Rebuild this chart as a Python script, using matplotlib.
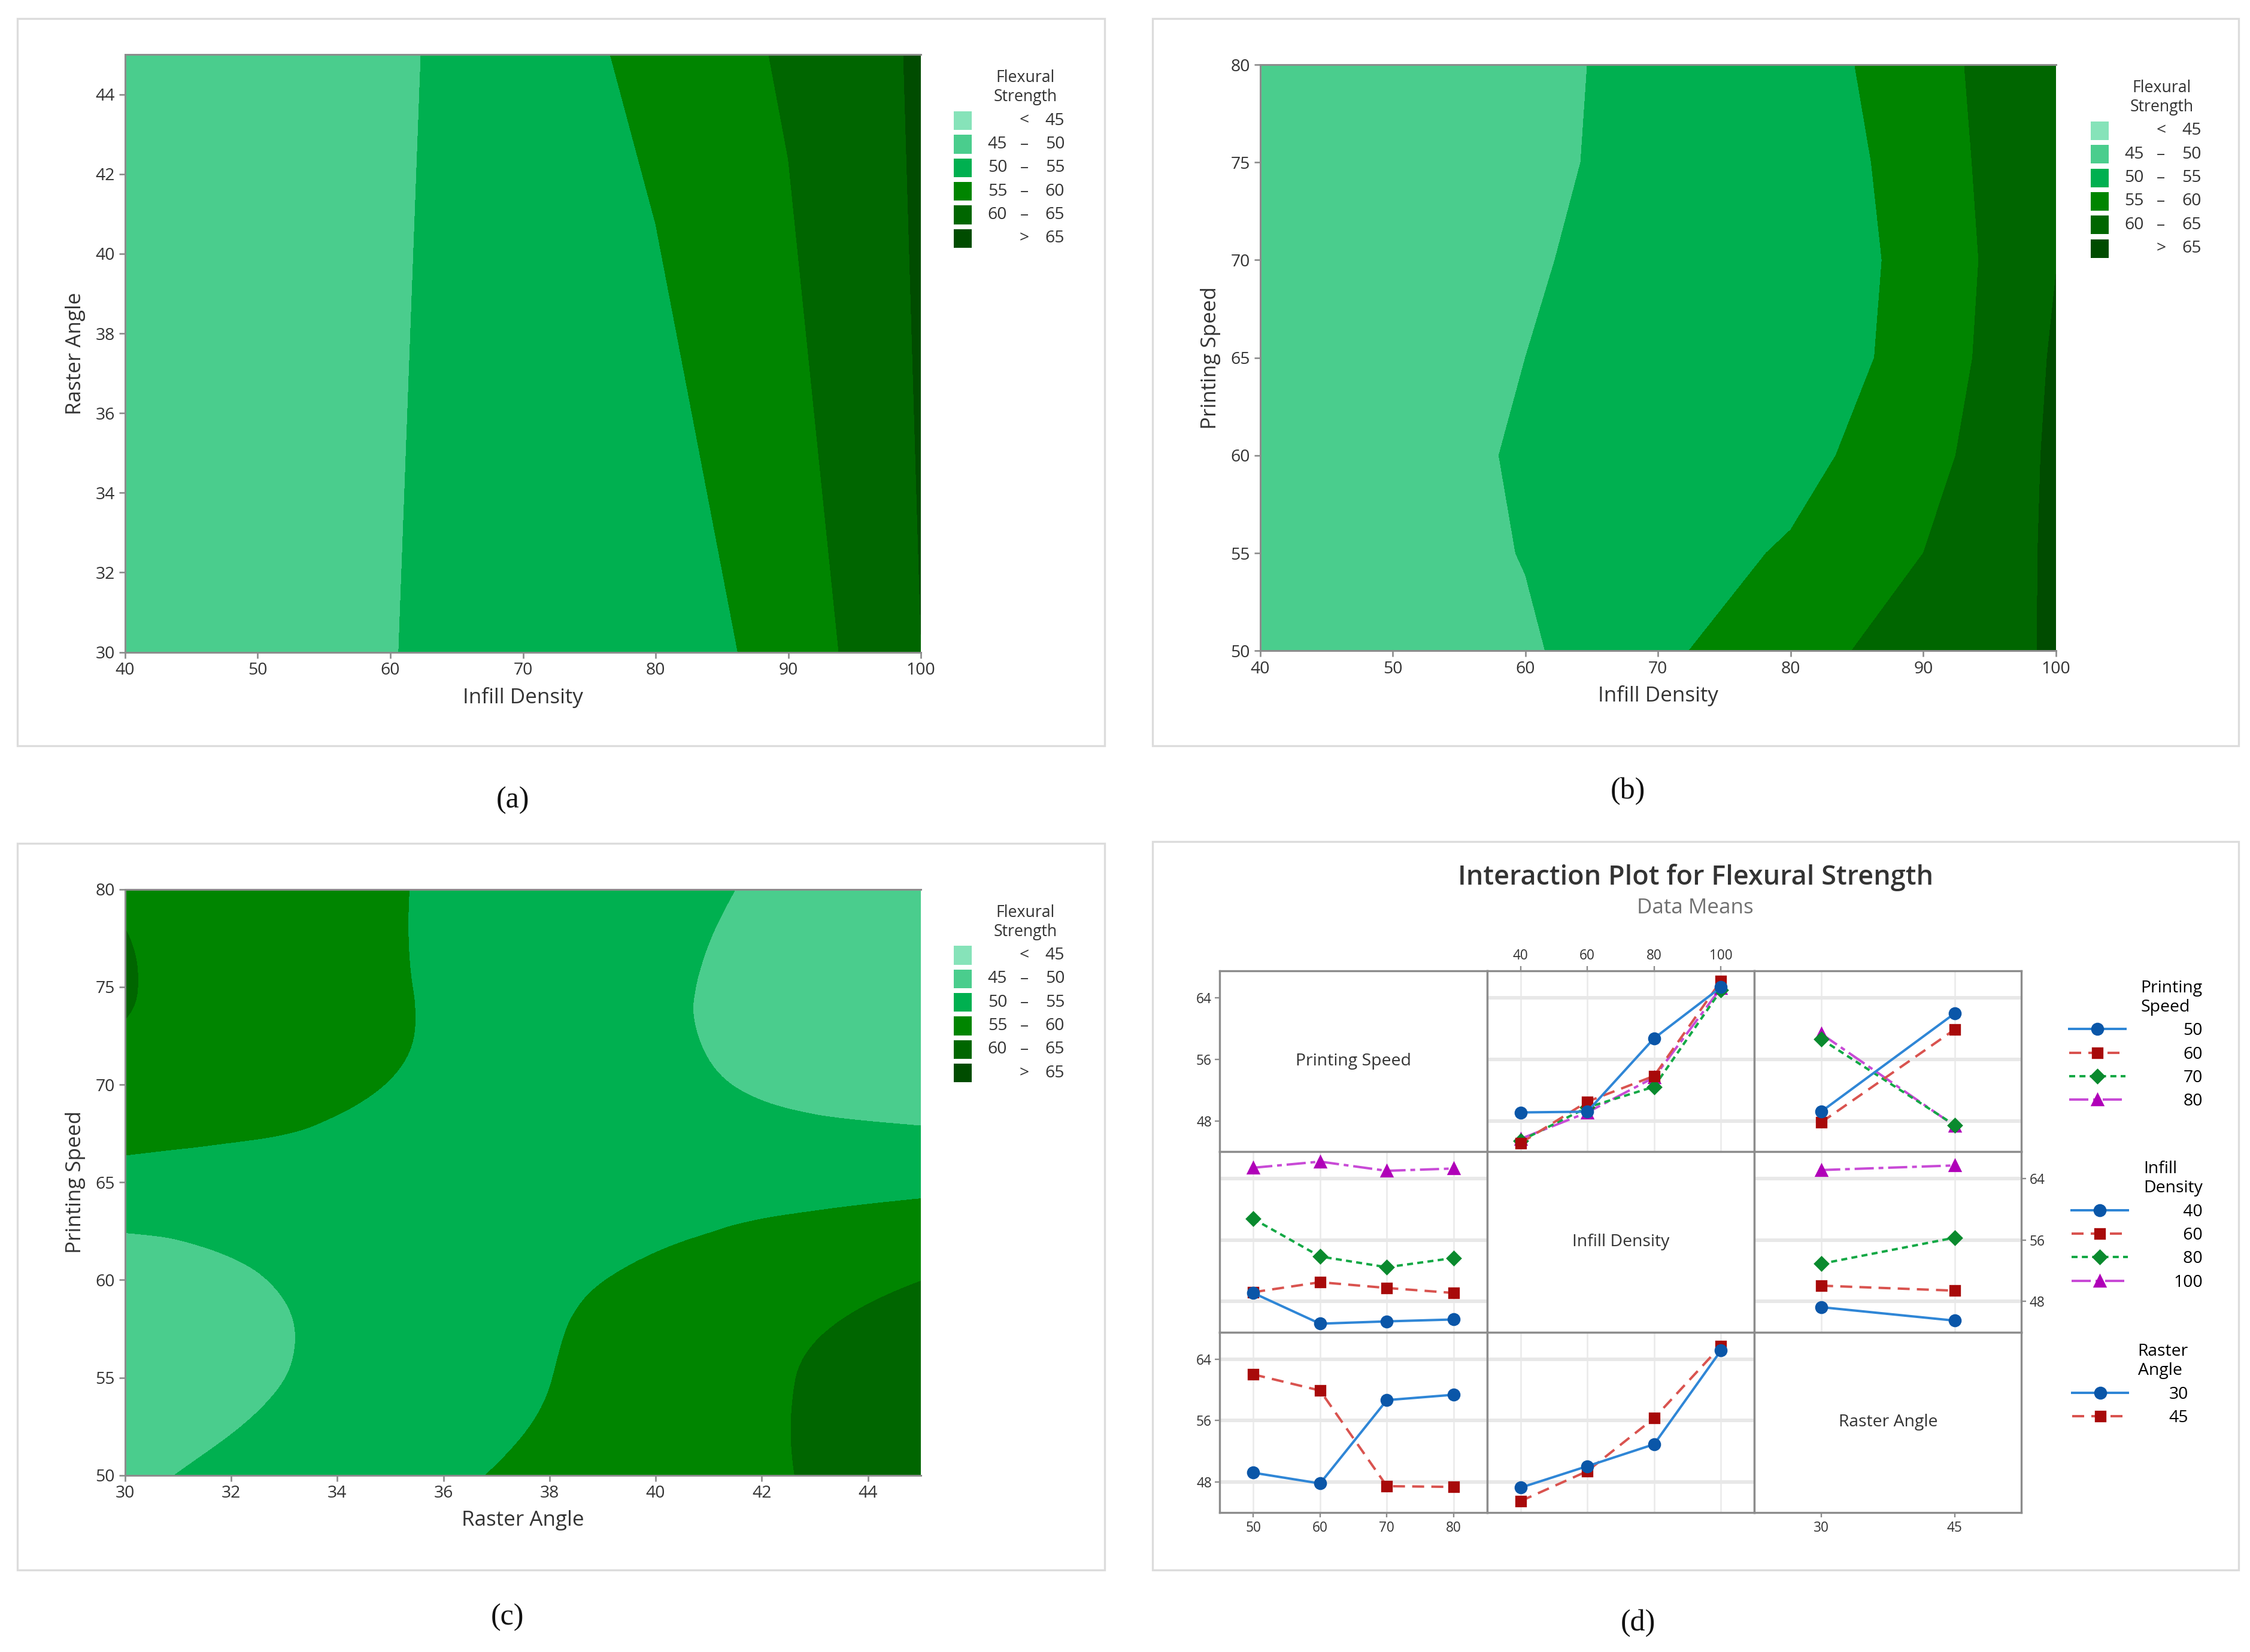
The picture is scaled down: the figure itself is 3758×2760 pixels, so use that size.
import numpy as np
import matplotlib
matplotlib.use("Agg")
import matplotlib.pyplot as plt
import matplotlib.tri as mtri
from matplotlib.patches import Rectangle

plt.rcParams['font.family'] = ['Open Sans', 'DejaVu Sans']

# ---------------- data ----------------
# contour bands for flexural strength
levels = [40, 45, 50, 55, 60, 65, 70]
band_left = ["", "45", "50", "55", "60", ""]
band_mid = ["<", "–", "–", "–", "–", ">"]
band_right = ["45", "50", "55", "60", "65", "65"]
fill_colors = ['#86e3b9', '#4acd8d', '#00b050', '#008500', '#006600', '#004c00']

# (a) flexural strength over infill density (x) and raster angle (y)
a_infill = [40, 50, 60, 70, 80, 90, 100]
a_raster = [30, 45]
a_strength = [[46.5, 48.0, 49.94, 50.9, 51.84, 56.94, 64.98],
              [46.5, 47.8, 49.22, 52.6, 56.25, 60.65, 65.65]]

# (b) flexural strength over infill density (x) and printing speed (y)
b_infill = [40, 50, 60, 70, 80, 90, 100]
b_speed = [50, 55, 60, 65, 70, 75, 80]
b_strength = [[45.8, 47.5, 49.3, 54.0, 58.3, 62.0, 65.5],
              [45.8, 47.5, 50.2, 52.8, 55.5, 60.0, 65.8],
              [46.0, 47.6, 50.6, 51.9, 53.4, 58.1, 65.9],
              [46.0, 47.5, 50.0, 51.1, 52.1, 56.7, 65.6],
              [45.8, 47.3, 49.8, 50.7, 51.7, 56.5, 64.9],
              [45.7, 47.0, 49.5, 50.7, 51.6, 57.2, 64.85],
              [45.6, 46.8, 49.3, 50.8, 52.3, 57.9, 64.7]]

# (c) flexural strength over raster angle (x) and printing speed (y)
c_raster = [30, 32.5, 35, 37.5, 40, 42.5, 45]
c_speed = [50, 55, 60, 65, 70, 75, 80]
c_strength = [[49.2, 51.35, 53.5, 55.6, 57.75, 59.9, 62.0],
              [47.5, 49.5, 52.0, 54.45, 57.1, 59.85, 62.3],
              [47.8, 49.85, 51.8, 53.75, 55.8, 57.9, 59.95],
              [53.3, 53.0, 52.6, 52.4, 52.7, 53.3, 53.8],
              [58.3, 57.0, 54.9, 52.9, 50.95, 49.3, 48.0],
              [60.25, 57.8, 55.4, 53.0, 50.65, 48.5, 46.5],
              [59.6, 57.5, 55.3, 53.3, 51.3, 49.1, 46.8]]

# (d) interaction plot, data means
speed_levels = [50, 60, 70, 80]
infill_levels = [40, 60, 80, 100]
raster_levels = [30, 45]
# rows: printing speed, cols: infill density
speed_infill = [[49.1, 49.2, 58.75, 65.4],
                [45.1, 50.5, 53.85, 66.2],
                [45.4, 49.75, 52.45, 65.0],
                [45.65, 49.1, 53.65, 65.3]]
# rows: printing speed, cols: raster angle
speed_raster = [[49.2, 62.0],
                [47.8, 59.9],
                [58.65, 47.45],
                [59.35, 47.35]]
# rows: infill density, cols: raster angle
infill_raster = [[47.25, 45.5],
                 [50.05, 49.4],
                 [52.9, 56.3],
                 [65.1, 65.7]]

# ---------------- layout helpers ----------------
W, H = 1566, 1150
fig = plt.figure(figsize=(3758 / 240, 2760 / 240), dpi=240)


def rect(x0, y0, x1, y1):
    return [x0 / W, 1 - y1 / H, (x1 - x0) / W, (y1 - y0) / H]


def fx(x):
    return x / W


def fy(y):
    return 1 - y / H


TXT = '#333333'
AX_GRAY = '#8c8c8c'

# panel frames
for x0, y0, x1, y1 in [(12, 13, 769, 519), (802, 13, 1558, 519),
                       (12, 587, 769, 1093), (802, 586, 1558, 1093)]:
    fig.add_artist(Rectangle((fx(x0), fy(y1)), (x1 - x0) / W, (y1 - y0) / H,
                             transform=fig.transFigure, fill=False,
                             ec='#dcdcdc', lw=1.0))


def contour_panel(box, xs, ys, zs, xticks, yticks, xlabel, ylabel, smooth):
    ax = fig.add_axes(rect(*box))
    if smooth:
        X, Y = np.meshgrid(xs, ys)
        z = np.asarray(zs, float).ravel()
        tri = mtri.Triangulation(X.ravel(), Y.ravel())
        interp = mtri.CubicTriInterpolator(tri, z, kind='min_E')
        tri_f, z_f = mtri.UniformTriRefiner(tri).refine_field(
            z, triinterpolator=interp, subdiv=4)
        ax.tricontourf(tri_f, z_f, levels=levels, colors=fill_colors)
    else:
        ax.contourf(xs, ys, zs, levels=levels, colors=fill_colors)
    ax.set_xlim(xs[0], xs[-1])
    ax.set_ylim(ys[0], ys[-1])
    ax.set_xticks(xticks)
    ax.set_yticks(yticks)
    ax.spines['right'].set_visible(False)
    for s in ['left', 'bottom', 'top']:
        ax.spines[s].set_color(AX_GRAY)
        ax.spines[s].set_linewidth(0.9)
    ax.tick_params(colors=AX_GRAY, labelcolor=TXT, labelsize=8.5,
                   length=3, width=0.8, pad=2)
    ax.set_xlabel(xlabel, fontsize=10.5, color=TXT, labelpad=4)
    ax.set_ylabel(ylabel, fontsize=10.5, color=TXT, labelpad=5)
    return ax


def band_legend(sq_x, row0):
    step = 16.4
    fig.text(fx(sq_x + 49.5), fy(row0 - 23), 'Flexural\nStrength', ha='center',
             va='center', fontsize=8, color=TXT, linespacing=1.2)
    for i in range(len(fill_colors)):
        yc = row0 + i * step
        fig.add_artist(Rectangle((fx(sq_x), fy(yc + 6.5)), 12.5 / W, 13 / H,
                                 transform=fig.transFigure,
                                 fc=fill_colors[i], ec='none'))
        fig.text(fx(sq_x + 37), fy(yc), band_left[i], ha='right', va='center',
                 fontsize=8.5, color=TXT)
        fig.text(fx(sq_x + 49), fy(yc), band_mid[i], ha='center', va='center',
                 fontsize=8.5, color=TXT)
        fig.text(fx(sq_x + 77), fy(yc), band_right[i], ha='right', va='center',
                 fontsize=8.5, color=TXT)


# (a)
contour_panel((87, 38, 641, 454), a_infill, a_raster, a_strength,
              range(40, 101, 10), range(30, 45, 2),
              'Infill Density', 'Raster Angle', smooth=False)
band_legend(664, 84)

# (b)
contour_panel((877, 45, 1431, 453), b_infill, b_speed, b_strength,
              range(40, 101, 10), range(50, 81, 5),
              'Infill Density', 'Printing Speed', smooth=False)
band_legend(1455, 91)

# (c)
contour_panel((87, 619, 641, 1027), c_raster, c_speed, c_strength,
              range(30, 45, 2), range(50, 81, 5),
              'Raster Angle', 'Printing Speed', smooth=True)
band_legend(664, 665)

# ---------------- (d) interaction plot ----------------
fig.text(fx(1180), fy(611), 'Interaction Plot for Flexural Strength',
         ha='center', va='center', fontsize=13.5, fontweight='semibold',
         color=TXT)
fig.text(fx(1180), fy(632), 'Data Means', ha='center', va='center',
         fontsize=10.5, color='#707070')

factor_names = ['Printing Speed', 'Infill Density', 'Raster Angle']
factor_titles = ['Printing\nSpeed', 'Infill\nDensity', 'Raster\nAngle']
factor_levels = [speed_levels, infill_levels, raster_levels]
xlims = [(45, 85), (30, 110), (22.5, 52.5)]
ylim = (44.0, 67.5)

si = np.array(speed_infill)
sr = np.array(speed_raster)
ir = np.array(infill_raster)
means = {(0, 1): si, (1, 0): si.T, (0, 2): sr, (2, 0): sr.T,
         (1, 2): ir, (2, 1): ir.T}

marker_colors = ['#0a56a8', '#a80a0a', '#0a8a2e', '#b000b8']
line_colors = ['#2f86d6', '#d9534f', '#13a845', '#c84ad6']
markers = ['o', 's', 'D', '^']
marker_sizes = [5.5, 5, 4.5, 5.5]
dashes = [None, (5, 3), (2.5, 1.8), (8, 2, 2, 2)]

mx0, mx1, my0, my1 = 849, 1407, 676, 1053
cw = (mx1 - mx0) / 3
ch = (my1 - my0) / 3

legend_handles = {}
for r in range(3):
    for c in range(3):
        ax = fig.add_axes(rect(mx0 + c * cw, my0 + r * ch,
                               mx0 + (c + 1) * cw, my0 + (r + 1) * ch))
        ax.set_xlim(*xlims[c])
        ax.set_ylim(*ylim)
        ax.set_xticks(factor_levels[c])
        ax.set_yticks([48, 56, 64])
        for s in ax.spines.values():
            s.set_color(AX_GRAY)
            s.set_linewidth(1.0)
        ax.tick_params(colors=AX_GRAY, labelcolor=TXT, labelsize=6.8,
                       length=2.5, width=0.7, pad=1.5,
                       bottom=False, top=False, left=False, right=False,
                       labelbottom=False, labeltop=False,
                       labelleft=False, labelright=False)
        # outer tick labels alternate like Minitab
        if r == 2 and c in (0, 2):
            ax.tick_params(bottom=True, labelbottom=True)
        if r == 0 and c == 1:
            ax.tick_params(top=True, labeltop=True)
        if c == 0 and r in (0, 2):
            ax.tick_params(left=True, labelleft=True)
        if c == 2 and r == 1:
            ax.tick_params(right=True, labelright=True)
        if r == c:
            ax.text(0.5, 0.5, factor_names[r], transform=ax.transAxes,
                    ha='center', va='center', fontsize=8.5, color=TXT)
            continue
        ax.set_axisbelow(True)
        ax.grid(axis='y', color='#e8e8e8', lw=1.8)
        ax.grid(axis='x', color='#ebebeb', lw=0.8)
        vals = means[(r, c)]
        handles = []
        for k, lev in enumerate(factor_levels[r]):
            ln, = ax.plot(factor_levels[c], vals[k], color=line_colors[k],
                          lw=1.2, marker=markers[k], ms=marker_sizes[k],
                          mfc=marker_colors[k], mec=marker_colors[k],
                          label=str(lev), zorder=3 + (len(factor_levels[r]) - k))
            if dashes[k] is not None:
                ln.set_dashes(dashes[k])
            handles.append(ln)
        legend_handles[r] = handles

legend_tops = [682, 808, 935]
legend_right = [1533, 1533, 1523]
legend_pad = [3.4, 2.7, 2.4]
for r in range(3):
    hs = legend_handles[r]
    labs = [h.get_label() for h in hs]
    width = max(len(s) for s in labs)
    labs = ['\u2007' * (width - len(s)) + s for s in labs]
    fig.legend(handles=hs, labels=labs,
               title=factor_titles[r], loc='upper right',
               bbox_to_anchor=(fx(legend_right[r]), fy(legend_tops[r])),
               frameon=False, fontsize=8.5, title_fontsize=8.5,
               alignment='right', handlelength=3.3,
               handletextpad=legend_pad[r],
               labelspacing=0.4, borderpad=0, borderaxespad=0)

# captions
cap = dict(ha='center', va='center', fontsize=15, color='#111111',
           family=['Liberation Serif', 'DejaVu Serif'])
fig.text(fx(357), fy(557), '(a)', **cap)
fig.text(fx(1133), fy(551), '(b)', **cap)
fig.text(fx(353), fy(1126), '(c)', **cap)
fig.text(fx(1140), fy(1130), '(d)', **cap)

fig.savefig('out.png', dpi=240, facecolor='white')
